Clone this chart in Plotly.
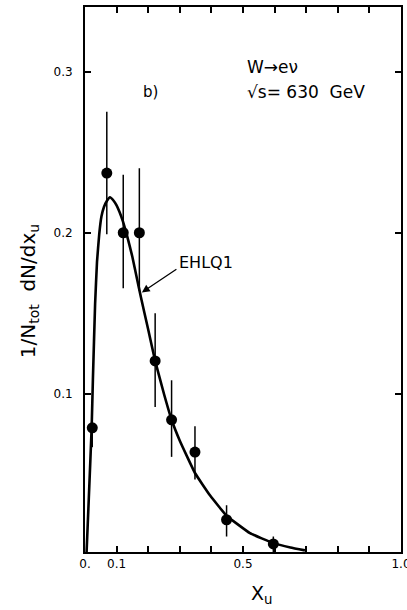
import plotly.graph_objects as go

# Data points
data_x = [0.023, 0.069, 0.121, 0.172, 0.222, 0.274, 0.348, 0.448, 0.596]
data_y = [0.079, 0.237, 0.200, 0.200, 0.1205, 0.084, 0.064, 0.022, 0.007]
err_up = [0.012, 0.038, 0.036, 0.040, 0.0295, 0.0245, 0.016, 0.009, 0.0046]
err_down = [0.012, 0.038, 0.0345, 0.036, 0.0285, 0.023, 0.017, 0.0104, 0.005]

# EHLQ1 curve
curve_x = [0.005, 0.012, 0.021, 0.025, 0.032, 0.038, 0.045, 0.052, 0.060, 0.070, 0.079,
           0.090, 0.100, 0.109, 0.120, 0.132, 0.150, 0.165, 0.177, 0.200, 0.222,
           0.250, 0.274, 0.300, 0.348, 0.396, 0.448, 0.522, 0.596, 0.650, 0.696]
curve_y = [0.002, 0.035, 0.079, 0.109, 0.156, 0.182, 0.199, 0.210, 0.216, 0.220, 0.222,
           0.220, 0.217, 0.213, 0.207, 0.199, 0.185, 0.171, 0.160, 0.140, 0.1205,
           0.100, 0.084, 0.071, 0.051, 0.037, 0.0245, 0.0137, 0.0075, 0.0048, 0.003]

x_tickvals = [0.0, 0.1, 0.5, 1.0]
x_ticktext = ["0.", "0.1", "0.5", "1.0"]
y_tickvals = [0.1, 0.2, 0.3]
y_ticktext = ["0.1", "0.2", "0.3"]

FONT = "DejaVu Sans"

fig = go.Figure()
fig.add_trace(go.Scatter(
    x=curve_x, y=curve_y, mode="lines",
    line=dict(color="black", width=2.6, shape="spline", smoothing=0.3),
    showlegend=False, hoverinfo="skip"))
fig.add_trace(go.Scatter(
    x=data_x, y=data_y, mode="markers",
    marker=dict(color="black", size=11),
    error_y=dict(type="data", symmetric=False, array=err_up, arrayminus=err_down,
                 width=0, thickness=1.5, color="black"),
    showlegend=False))

fig.update_layout(
    width=407, height=610,
    margin=dict(l=85, r=6, t=7, b=58, autoexpand=False),
    paper_bgcolor="white", plot_bgcolor="white",
    font=dict(family=FONT, color="black"),
    xaxis=dict(range=[0, 1.0], tickvals=x_tickvals, ticktext=x_ticktext,
               ticks="inside", ticklen=6, tickwidth=1.5, tickcolor="black",
               minor=dict(tickmode="linear", tick0=0, dtick=0.1, ticks="inside",
                          ticklen=6, tickwidth=1.5, tickcolor="black"),
               showline=True, linecolor="black", linewidth=2, mirror="ticks",
               showgrid=False, zeroline=False, ticklabeloverflow="allow",
               automargin=False,
               tickfont=dict(family=FONT, size=12, color="black")),
    yaxis=dict(range=[0.002, 0.34], tickvals=y_tickvals, ticktext=y_ticktext,
               ticks="inside", ticklen=6, tickwidth=1.5, tickcolor="black",
               showline=True, linecolor="black", linewidth=2, mirror="ticks",
               showgrid=False, zeroline=False, ticklabelstandoff=8,
               automargin=False,
               tickfont=dict(family=FONT, size=12, color="black")),
)

annots = [
    dict(x=0.206, y=0.287, xref="x", yref="y", text="b)", showarrow=False,
         font=dict(size=15)),
    dict(x=0.506, y=0.303, xref="x", yref="y", text="W→eν", showarrow=False,
         xanchor="left", font=dict(size=17)),
    dict(x=0.506, y=0.2875, xref="x", yref="y", text="√s= 630  GeV", showarrow=False,
         xanchor="left", font=dict(size=17)),
    dict(x=0.291, y=0.1817, xref="x", yref="y", text="EHLQ1", showarrow=False,
         xanchor="left", font=dict(size=16)),
    dict(x=0.180, y=0.163, xref="x", yref="y", ax=0.294, ay=0.178,
         axref="x", ayref="y", text="", showarrow=True, arrowhead=2,
         arrowsize=1.2, arrowwidth=1.3, arrowcolor="black"),
]
fig.update_layout(annotations=annots)

# axis titles as annotations for precise placement
fig.add_annotation(x=-0.225, y=0.48, xref="paper", yref="paper",
                   text="1/N<sub>tot</sub>  dN/dx<sub>u</sub>", textangle=-90,
                   showarrow=False, font=dict(size=20))
fig.add_annotation(x=0.56, y=-0.105, xref="paper", yref="paper",
                   text="X<sub>u</sub>", showarrow=False, font=dict(size=19))

fig.write_html("out.html")
